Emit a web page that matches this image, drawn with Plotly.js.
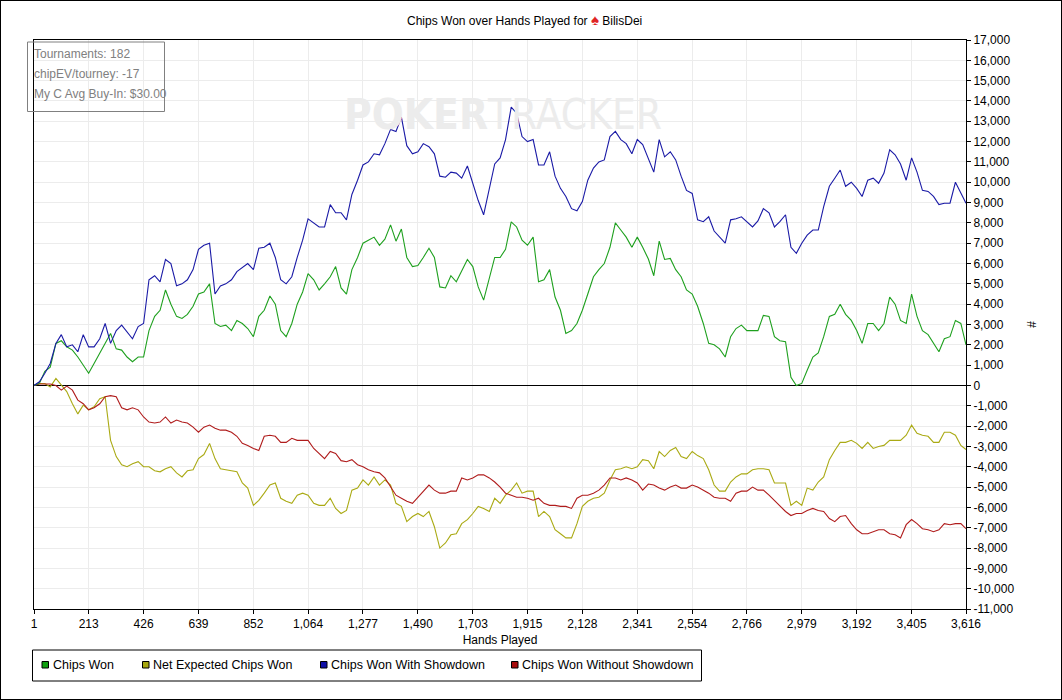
<!DOCTYPE html>
<html>
<head>
<meta charset="utf-8">
<script src="https://cdn.plot.ly/plotly-3.0.1.min.js"></script>
<style>
  html, body { margin: 0; padding: 0; background: #fff; }
  #chipsPlot { width: 1060px; height: 698px; border: 1px solid #000; }
</style>
</head>
<body>
<div id="chipsPlot"></div>
<script>
// hands sampled along the x axis (10 readings per tick interval)
const hands = [
    1, 22, 43, 64, 86, 107, 128, 150, 171, 192,
    213, 234, 256, 277, 298, 320, 341, 362, 383, 405,
    426, 447, 469, 490, 511, 532, 554, 575, 596, 618,
    639, 660, 682, 703, 724, 745, 767, 788, 809, 830,
    852, 873, 894, 916, 937, 958, 979, 1001, 1022, 1043,
    1064, 1086, 1107, 1128, 1150, 1171, 1192, 1213, 1234, 1256,
    1277, 1298, 1320, 1341, 1362, 1384, 1405, 1426, 1447, 1469,
    1490, 1511, 1533, 1554, 1575, 1597, 1618, 1639, 1660, 1682,
    1703, 1724, 1745, 1767, 1788, 1809, 1830, 1852, 1873, 1894,
    1915, 1937, 1958, 1979, 2001, 2022, 2043, 2064, 2086, 2107,
    2128, 2149, 2171, 2192, 2213, 2235, 2256, 2277, 2298, 2320,
    2341, 2362, 2384, 2405, 2426, 2447, 2469, 2490, 2511, 2532,
    2554, 2575, 2597, 2618, 2639, 2660, 2682, 2703, 2724, 2745,
    2766, 2788, 2809, 2830, 2852, 2873, 2894, 2916, 2937, 2958,
    2979, 3000, 3022, 3043, 3064, 3086, 3107, 3128, 3149, 3171,
    3192, 3213, 3235, 3256, 3277, 3298, 3320, 3341, 3362, 3384,
    3405, 3426, 3447, 3469, 3490, 3511, 3532, 3554, 3575, 3596,
    3616];

const chipsWon = [
    0, 100, 700, 900, 2070, 2200, 1900, 1740, 1400, 1000,
    600, 1080, 1600, 2070, 2560, 1800, 1740, 1400, 1170, 1400,
    1400, 2700, 3400, 3700, 4700, 4000, 3400, 3300, 3500, 3900,
    4500, 4600, 5000, 3050, 2900, 2970, 2700, 3200, 3050, 2800,
    2400, 3400, 3700, 4400, 4000, 2700, 2400, 3050, 4000, 4600,
    5500, 5200, 4700, 5000, 5350, 5850, 4800, 4500, 5700, 6300,
    7000, 7150, 7300, 6900, 7200, 7900, 7100, 7700, 6300, 5850,
    5900, 6300, 6750, 6300, 4850, 4800, 5400, 5100, 5600, 6200,
    5850, 4850, 4200, 5350, 6300, 6300, 6700, 8050, 7800, 7150,
    6900, 7300, 5100, 5200, 5700, 4350, 3700, 2560, 2700, 3050,
    3700, 4500, 5350, 5700, 6000, 6800, 8000, 7650, 7300, 6800,
    7300, 6800, 6220, 5400, 7100, 6200, 6250, 5700, 5350, 4700,
    4500, 3900, 3050, 2070, 2000, 1800, 1400, 2400, 2800, 2970,
    2700, 2700, 2700, 3450, 3400, 2400, 2200, 2150, 400, 0,
    100, 750, 1400, 1600, 2400, 3400, 3500, 4000, 3500, 3200,
    2700, 2070, 3050, 3050, 2700, 3050, 4350, 4000, 3200, 3050,
    4500, 3400, 2700, 2500, 2050, 1660, 2300, 2400, 3200, 3050,
    2000];

const netExpected = [
    0, 100, 100, -70, 350, 0, -300, -900, -1400, -970,
    -1200, -1050, -650, -550, -2700, -3500, -3900, -4000, -3850, -3750,
    -4000, -4000, -4200, -4250, -4100, -4000, -4300, -4500, -4200, -4150,
    -3600, -3400, -2850, -3600, -4100, -4150, -4200, -4250, -4800, -5050,
    -5900, -5650, -5300, -4900, -4800, -5550, -5700, -5800, -5400, -5300,
    -5400, -5800, -5900, -5900, -5550, -6050, -6300, -6150, -5150, -5050,
    -4650, -4900, -4500, -4900, -4650, -4900, -5800, -5950, -6700, -6450,
    -6300, -6450, -6200, -6950, -8000, -7750, -7350, -7300, -6800, -6600,
    -6300, -5950, -6050, -6200, -5550, -5800, -5400, -5150, -4800, -5300,
    -5200, -5200, -6450, -6200, -6450, -7100, -7300, -7500, -7500, -6800,
    -5950, -5700, -5550, -5500, -5300, -4650, -4150, -4100, -4000, -4100,
    -4000, -3650, -3700, -4100, -3250, -3500, -3200, -3050, -3500, -3600,
    -3250, -3450, -3600, -4150, -4900, -5200, -5200, -4750, -4500, -4350,
    -4350, -4150, -4100, -4100, -4150, -4800, -4800, -4800, -5900, -5700,
    -5900, -5050, -5150, -4750, -4500, -3650, -3200, -2800, -2800, -2700,
    -2850, -3100, -2800, -3100, -3000, -2950, -2700, -2700, -2700, -2450,
    -1950, -2350, -2450, -2500, -2800, -2800, -2300, -2300, -2450, -2950,
    -3150];

const withShowdown = [
    0, 180, 600, 1080, 2070, 2500, 1900, 2000, 1660, 2500,
    1900, 1900, 2300, 3050, 2070, 2700, 2970, 2650, 2300, 2900,
    3050, 5200, 5400, 5100, 6200, 6000, 4900, 5000, 5200, 5700,
    6700, 6900, 7000, 4500, 4900, 5000, 5200, 5600, 5800, 6000,
    5700, 6750, 6800, 7000, 6300, 5200, 5000, 5350, 6300, 7150,
    8200, 8000, 7800, 7800, 8900, 8500, 8500, 8150, 9400, 10100,
    10850, 11000, 11400, 11350, 11900, 12600, 12500, 13200, 11800, 11400,
    11500, 11900, 11750, 11400, 10300, 10250, 10500, 10450, 10200, 10800,
    9950, 9100, 8400, 9600, 10900, 11200, 12100, 13700, 13400, 12250,
    12000, 12100, 10850, 10850, 11500, 10300, 9700, 9300, 8700, 8600,
    9050, 10100, 10700, 11000, 11100, 12250, 12500, 12100, 11900, 11400,
    12100, 11850, 11150, 10500, 12100, 11250, 11500, 11100, 10300, 9600,
    9450, 8150, 8060, 8300, 7600, 7300, 7000, 8150, 8200, 8300,
    8060, 7800, 8100, 8700, 8500, 7800, 8060, 8400, 6800, 6500,
    7000, 7400, 7650, 7650, 8800, 9800, 10200, 10600, 9800, 10000,
    9700, 9300, 10100, 10200, 9950, 10450, 11600, 11350, 10900, 10100,
    11200, 10500, 9600, 9550, 9300, 8900, 8970, 8970, 10000, 9450,
    8970];

const withoutShowdown = [
    0, 70, 70, 70, 0, -230, -30, -230, -720, -900,
    -1200, -1100, -900, -550, -500, -550, -1100, -1200, -1100, -1200,
    -1550, -1800, -1850, -1800, -1550, -1850, -1700, -1800, -1850, -2050,
    -2300, -2050, -1950, -2100, -2200, -2200, -2300, -2500, -2850, -2950,
    -3100, -3200, -2500, -2450, -2500, -2800, -2800, -2600, -2700, -2700,
    -2700, -3100, -3350, -3600, -3250, -3350, -3700, -3750, -3650, -3900,
    -4000, -4150, -4250, -4300, -4550, -5000, -5400, -5550, -5700, -5800,
    -5500, -5200, -4900, -5150, -5300, -5300, -5200, -5200, -4550, -4650,
    -4550, -4400, -4400, -4550, -4750, -5000, -5300, -5400, -5500, -5500,
    -5550, -5650, -5550, -5800, -5900, -5900, -5950, -5950, -6050, -5550,
    -5400, -5400, -5300, -5150, -4900, -4550, -4550, -4650, -4550, -4650,
    -4800, -5150, -4850, -4900, -5050, -5150, -5000, -4900, -5050, -5050,
    -4900, -5000, -5150, -5300, -5500, -5550, -5550, -5700, -5300, -5200,
    -5200, -5000, -5150, -5150, -5400, -5650, -5950, -6200, -6400, -6300,
    -6300, -6150, -6050, -6150, -6200, -6550, -6700, -6450, -6400, -6800,
    -7100, -7300, -7300, -7200, -7100, -7100, -7300, -7350, -7500, -6850,
    -6600, -6800, -7050, -7100, -7200, -7100, -6800, -6850, -6800, -6800,
    -7050];

const seriesNames = ['Chips Won', 'Net Expected Chips Won', 'Chips Won With Showdown', 'Chips Won Without Showdown'];
const seriesColors = ['#1ea01e', '#aaaa14', '#1a1aa6', '#b01c1c'];
const swatchColors = ['#10a010', '#a8a810', '#1010a8', '#a80c0c'];

const xTicks = [1, 213, 426, 639, 852, 1064, 1277, 1490, 1703, 1915, 2128, 2341, 2554, 2766, 2979, 3192, 3405, 3616];
const yTicks = [17000, 16000, 15000, 14000, 13000, 12000, 11000, 10000, 9000, 8000, 7000, 6000, 5000, 4000, 3000, 2000, 1000, 0,
    -1000, -2000, -3000, -4000, -5000, -6000, -7000, -8000, -9000, -10000, -11000];

const infoLines = ['Tournaments: 182', 'chipEV/tourney: -17', 'My C Avg Buy-In: $30.00'];

function fmt(v) {
    const s = Math.abs(v).toString().replace(/\B(?=(\d{3})+(?!\d))/g, ',');
    return (v < 0 ? '-' : '') + s;
}

const font = 'Liberation Sans, Arial, sans-serif';
const allSeries = [chipsWon, netExpected, withShowdown, withoutShowdown];
const drawOrder = [1, 3, 0, 2];

const traces = drawOrder.map(i => ({
    type: 'scatter', mode: 'lines', x: hands, y: allSeries[i], name: seriesNames[i],
    line: { color: seriesColors[i], width: 1.1 }, hoverinfo: 'x+y'
}));

// plot area in pixels inside the 1060x698 div: x 33..965, y 39..608
const PW = 932, PH = 569, ML = 33, MT = 39;
const px = x => (x - ML) / PW;
const py = y => (MT + PH - y) / PH;

const annotations = [
    { xref: 'paper', yref: 'paper', x: px(502), y: py(87), text: '<b>POKER</b>TRACKER', showarrow: false,
      font: { family: 'DejaVu Sans Condensed, Liberation Sans Narrow, sans-serif', size: 42, color: '#ececec' } }
];
infoLines.forEach((t, i) => {
    annotations.push({ xref: 'paper', yref: 'paper', x: px(31), y: py(53 + i * 20), xanchor: 'left', yanchor: 'middle',
        text: t, showarrow: false, font: { family: font, size: 12, color: '#808080' } });
});

const shapes = [
    // info box
    { type: 'rect', xref: 'paper', yref: 'paper', x0: px(26.5), x1: px(163.5), y0: py(110.5), y1: py(41),
      line: { color: '#808080', width: 1 }, fillcolor: 'rgba(0,0,0,0)' },
    // legend box
    { type: 'rect', xref: 'paper', yref: 'paper', x0: px(31.5), x1: px(700.5), y0: py(680), y1: py(649),
      line: { color: '#000', width: 1 }, fillcolor: '#fff' }
];

// legend entries: square swatch + label
const legendX = [41, 141.5, 319.5, 510.5];
seriesNames.forEach((n, i) => {
    shapes.push({ type: 'rect', xref: 'paper', yref: 'paper', x0: px(legendX[i]), x1: px(legendX[i] + 6.5),
        y0: py(667), y1: py(660.5), line: { color: '#000', width: 1 }, fillcolor: swatchColors[i] });
    annotations.push({ xref: 'paper', yref: 'paper', x: px(legendX[i] + 8.5), y: py(664), xanchor: 'left', yanchor: 'middle',
        text: n, showarrow: false, font: { family: font, size: 12.5, color: '#000' } });
});

const layout = {
    width: 1060, height: 698,
    margin: { l: ML, r: 1060 - ML - PW, t: MT, b: 698 - MT - PH },
    paper_bgcolor: '#fff', plot_bgcolor: '#fff',
    font: { family: font, size: 12, color: '#000' },
    title: { text: 'Chips Won over Hands Played for <span style="color:#e02424;font-size:15px">♠</span> BilisDei',
        x: 0.494, xref: 'container', y: 1 - 20 / 698, yanchor: 'middle', font: { family: font, size: 12, color: '#000' } },
    xaxis: {
        range: [1, 3616], tickvals: xTicks, ticktext: xTicks.map(fmt), ticks: 'outside', ticklen: 4, tickcolor: '#000',
        showline: true, mirror: true, linecolor: '#000', linewidth: 1,
        showgrid: true, gridcolor: '#ececec', zeroline: false, tickfont: { size: 12 },
        title: { text: 'Hands Played', standoff: 5, font: { size: 12 } }
    },
    yaxis: {
        side: 'right', range: [-11000, 17000], tickvals: yTicks, ticktext: yTicks.map(fmt), ticks: 'outside', ticklen: 4, tickcolor: '#000',
        showline: true, mirror: true, linecolor: '#000', linewidth: 1,
        showgrid: true, gridcolor: '#ececec', zeroline: true, zerolinecolor: '#000', zerolinewidth: 1, tickfont: { size: 12 },
        title: { text: '#', standoff: 14, font: { size: 12 } }
    },
    showlegend: false,
    shapes: shapes,
    annotations: annotations
};

Plotly.newPlot('chipsPlot', traces, layout, { displayModeBar: false, staticPlot: true });
</script>
</body>
</html>
